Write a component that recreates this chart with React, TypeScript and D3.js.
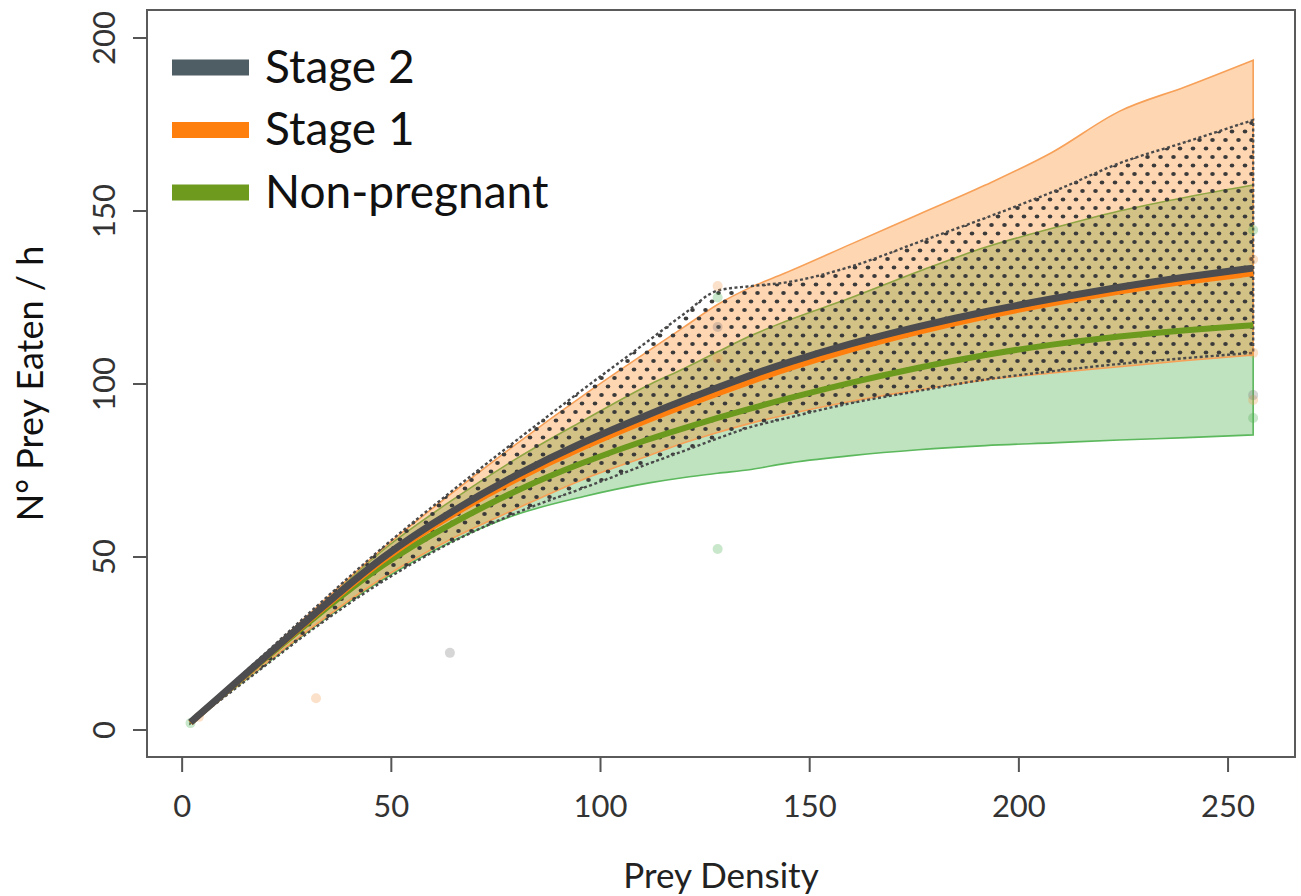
import React, { useEffect, useRef } from 'react';
import * as d3 from 'd3';

const density = [2, 8, 16, 32, 48, 64, 80, 96, 112, 120, 128, 136, 144, 160, 176, 192, 208, 224, 240, 256];

// fitted means
const stage2Mean = [2.2, 8.6, 17.1, 34, 50.5, 63, 74, 83.4, 91.5, 95.3, 99, 102.6, 106, 111.8, 116.7, 121, 124.7, 128, 131, 133.5];
const stage1Mean = [2.1, 8.5, 16.9, 33.5, 49.7, 62, 72.8, 82, 90, 93.7, 97.3, 100.8, 104.2, 110.2, 115.2, 119.6, 123.4, 126.8, 129.7, 132];
const nonPregMean = [2.2, 8.5, 16.8, 33, 48.3, 59.5, 69.5, 77.5, 84.3, 87.3, 90.2, 93, 95.6, 100.5, 104.8, 108.5, 111.5, 113.8, 115.6, 117];

// confidence bands
const stage2Upper = [2.6, 9.1, 17.9, 35.6, 52.8, 68.6, 83.8, 98.6, 113, 120.3, 127, 128.3, 129.3, 134, 141, 148, 155.5, 163.8, 170, 176.3];
const stage2Lower = [2.0, 7.6, 15, 29.8, 43, 54, 62.8, 70, 77.2, 80.7, 84.3, 87.6, 90, 94.5, 98, 101.3, 103.7, 105.8, 107.5, 109];
const stage1Upper = [2.6, 9.0, 17.7, 35.3, 52.5, 68, 82.8, 96.8, 110, 116.5, 123, 128, 132, 140.5, 149, 157.5, 167, 178.8, 186, 193.6];
const stage1Lower = [2.0, 7.8, 15.4, 30.5, 44, 55, 64, 72.5, 79.5, 83, 86, 88.7, 91, 95, 98.3, 101.2, 103.2, 105, 106.8, 108.4];
const nonPregUpper = [2.5, 8.9, 17.5, 34.8, 52, 66, 78.5, 89.5, 100, 104.5, 109.3, 114, 118, 125, 132.5, 139.5, 145, 150, 154, 157.5];
const nonPregLower = [2.0, 7.8, 15.2, 30.2, 43.5, 54.2, 62.3, 67.5, 71.5, 73, 74.2, 75.3, 77, 79.3, 81, 82.2, 83, 83.8, 84.5, 85.3];

// observed feeding points (faint)
const stage1Obs: [number, number][] = [[4, 3.8], [32, 9.2], [128, 128.3], [128, 107.5], [256, 95.4], [256, 109], [256, 136]];
const stage2Obs: [number, number][] = [[64, 22.3], [128, 116.5], [256, 96.8]];
const nonPregObs: [number, number][] = [[2, 2], [128, 52.3], [128, 125], [256, 90.2], [256, 144.5]];

const xTicks = [0, 50, 100, 150, 200, 250];
const yTicks = [0, 50, 100, 150, 200];

const legendNames = ['Stage 2', 'Stage 1', 'Non-pregnant'];
const legendColors = ['#4f5d64', '#ff7f0e', '#6e9a1e'];

const W = 1301;
const H = 896;
const FONT = "Lato, 'Open Sans', sans-serif";

export default function App() {
  const ref = useRef<SVGSVGElement>(null);

  useEffect(() => {
    const svg = d3.select(ref.current);
    svg.selectAll('*').remove();

    const left = 147, right = 1295, top = 10, bottom = 757;
    const x = d3.scaleLinear().domain([-8.4, 266]).range([left, right]);
    const y = d3.scaleLinear().domain([-7.8, 208.1]).range([bottom, top]);

    const defs = svg.append('defs');
    const pat = defs.append('pattern')
      .attr('id', 'dots')
      .attr('patternUnits', 'userSpaceOnUse')
      .attr('width', 13)
      .attr('height', 17);
    pat.append('ellipse').attr('cx', 3.5).attr('cy', 4).attr('rx', 2.3).attr('ry', 1.9).attr('fill', '#3a3a3a');
    pat.append('ellipse').attr('cx', 10).attr('cy', 12.5).attr('rx', 2.3).attr('ry', 1.9).attr('fill', '#3a3a3a');

    const clip = defs.append('clipPath').attr('id', 'plotclip');
    clip.append('rect').attr('x', left).attr('y', top).attr('width', right - left).attr('height', bottom - top);

    const band = (lo: number[], hi: number[]) =>
      d3.area<number>()
        .x((d) => x(d))
        .y0((d, i) => y(lo[i]))
        .y1((d, i) => y(hi[i]))
        .curve(d3.curveMonotoneX)(density);

    const line = (vals: number[]) =>
      d3.line<number>()
        .x((d) => x(d))
        .y((d, i) => y(vals[i]))
        .curve(d3.curveBasis)(density);

    const g = svg.append('g').attr('clip-path', 'url(#plotclip)');

    // non-pregnant band
    g.append('path')
      .attr('d', band(nonPregLower, nonPregUpper))
      .attr('fill', 'rgba(44,160,44,0.30)')
      .attr('stroke', '#5cb85c')
      .attr('stroke-width', 1.6);

    // stage 1 band
    g.append('path')
      .attr('d', band(stage1Lower, stage1Upper))
      .attr('fill', 'rgba(255,127,14,0.32)')
      .attr('stroke', '#f7a058')
      .attr('stroke-width', 1.6);

    // stage 2 band, dotted
    g.append('path')
      .attr('d', band(stage2Lower, stage2Upper))
      .attr('fill', 'url(#dots)')
      .attr('stroke', '#4a4a4a')
      .attr('stroke-width', 2.4)
      .attr('stroke-dasharray', '3,2.5');

    // observations
    const pts = (data: [number, number][], col: string) => {
      g.append('g').selectAll('circle')
        .data(data)
        .enter()
        .append('circle')
        .attr('cx', (d) => x(d[0]))
        .attr('cy', (d) => y(d[1]))
        .attr('r', 5)
        .attr('fill', col)
        .attr('opacity', 0.3);
    };
    pts(nonPregObs, '#4caf50');
    pts(stage1Obs, '#f39c4c');
    pts(stage2Obs, '#777777');

    // mean curves
    g.append('path').attr('d', line(nonPregMean)).attr('fill', 'none')
      .attr('stroke', '#6b9a1f').attr('stroke-width', 6);
    g.append('path').attr('d', line(stage1Mean)).attr('fill', 'none')
      .attr('stroke', '#ff7f0e').attr('stroke-width', 6);
    g.append('path').attr('d', line(stage2Mean)).attr('fill', 'none')
      .attr('stroke', '#4d4d4f').attr('stroke-width', 7);

    // box
    svg.append('rect')
      .attr('x', left).attr('y', top)
      .attr('width', right - left).attr('height', bottom - top)
      .attr('fill', 'none').attr('stroke', '#5a5a5a').attr('stroke-width', 2);

    // x axis
    const xa = svg.append('g');
    xa.selectAll('line')
      .data(xTicks).enter().append('line')
      .attr('x1', (d) => x(d)).attr('x2', (d) => x(d))
      .attr('y1', bottom).attr('y2', bottom + 15)
      .attr('stroke', '#555').attr('stroke-width', 2);
    xa.selectAll('text')
      .data(xTicks).enter().append('text')
      .attr('x', (d) => x(d)).attr('y', 817)
      .attr('text-anchor', 'middle')
      .attr('font-family', FONT).attr('font-size', 31).attr('fill', '#333')
      .text((d) => d);

    // y axis
    const ya = svg.append('g');
    ya.selectAll('line')
      .data(yTicks).enter().append('line')
      .attr('x1', left - 14).attr('x2', left)
      .attr('y1', (d) => y(d)).attr('y2', (d) => y(d))
      .attr('stroke', '#555').attr('stroke-width', 2);
    ya.selectAll('text')
      .data(yTicks).enter().append('text')
      .attr('transform', (d) => `translate(115,${y(d)}) rotate(-90)`)
      .attr('text-anchor', 'middle')
      .attr('font-family', FONT).attr('font-size', 31).attr('fill', '#333')
      .text((d) => d);

    // axis titles
    svg.append('text')
      .attr('x', (left + right) / 2).attr('y', 888)
      .attr('text-anchor', 'middle')
      .attr('font-family', FONT).attr('font-size', 35).attr('fill', '#222')
      .text('Prey Density');
    svg.append('text')
      .attr('transform', `translate(43,${(top + bottom) / 2}) rotate(-90)`)
      .attr('text-anchor', 'middle')
      .attr('font-family', FONT).attr('font-size', 36).attr('fill', '#111')
      .text('N° Prey Eaten / h');

    // legend
    const lg = svg.append('g');
    legendNames.forEach((name, i) => {
      const cy = 67.5 + i * 62.5;
      lg.append('line')
        .attr('x1', 172).attr('x2', 249)
        .attr('y1', cy).attr('y2', cy)
        .attr('stroke', legendColors[i]).attr('stroke-width', 16);
      lg.append('text')
        .attr('x', 265).attr('y', cy + 15)
        .attr('font-family', FONT).attr('font-size', 46).attr('fill', '#111')
        .text(name);
    });
  }, []);

  return (
    <svg
      ref={ref}
      width={W}
      height={H}
      style={{ position: 'absolute', left: 0, top: 0, background: '#fff' }}
    />
  );
}
